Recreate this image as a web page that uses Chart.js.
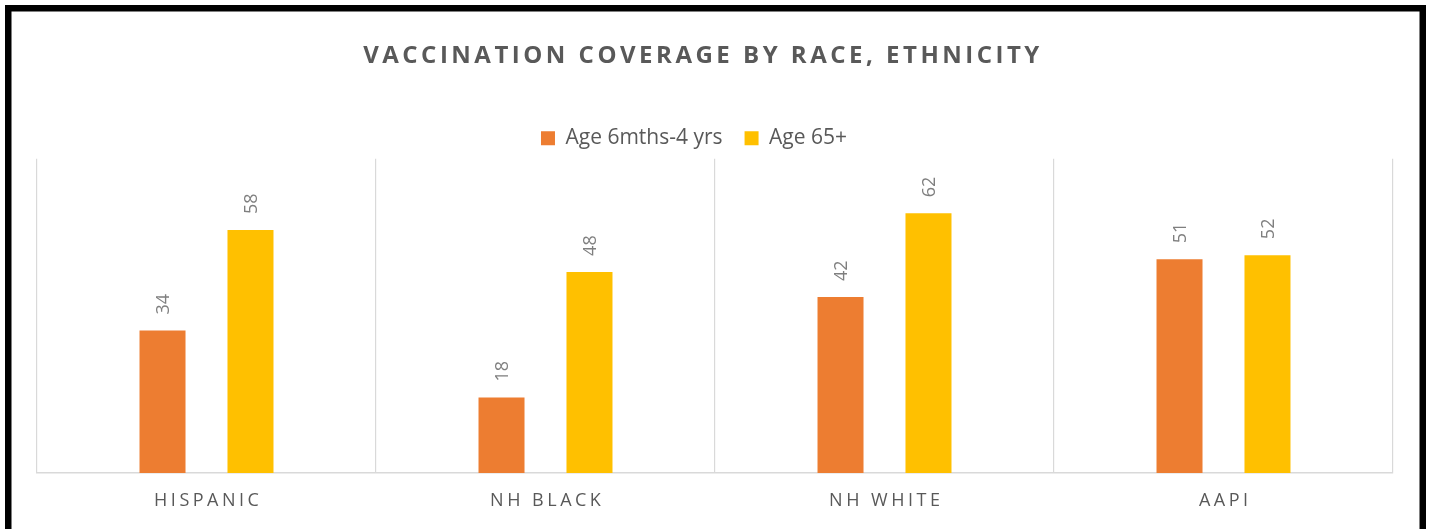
<!DOCTYPE html>
<html>
<head>
<meta charset="utf-8">
<script src="https://cdn.jsdelivr.net/npm/chart.js@4.4.1/dist/chart.umd.min.js"></script>
<style>
  html, body { margin: 0; padding: 0; background: #ffffff; }
  #wrap { position: relative; width: 1429px; height: 529px; }
</style>
</head>
<body>
<div id="wrap"><canvas id="c"></canvas></div>
<script>
const categories = ["HISPANIC", "NH BLACK", "NH WHITE", "AAPI"];
const seriesNames = ["Age 6mths-4 yrs", "Age 65+"];
const youngValues = [34, 18, 42, 51];
const seniorValues = [58, 48, 62, 52];
const chartTitle = "VACCINATION COVERAGE BY RACE, ETHNICITY";

const FONT = "'Open Sans', 'Liberation Sans', sans-serif";

const spacingPlugin = {
  id: 'spacing',
  beforeDraw(chart) {
    const tb = chart.titleBlock;
    if (tb && !tb._wrapped) {
      const orig = tb.draw.bind(tb);
      tb.draw = function () {
        const ctx = chart.ctx;
        ctx.save();
        ctx.letterSpacing = '3.5px';
        ctx.translate(-12, 0);
        orig();
        ctx.restore();
      };
      tb._wrapped = true;
    }
    const lg = chart.legend;
    if (lg && !lg._wrapped) {
      const origL = lg.draw.bind(lg);
      lg.draw = function () {
        const ctx = chart.ctx;
        ctx.save();
        ctx.translate(-21, 0);
        origL();
        ctx.restore();
      };
      lg._wrapped = true;
    }
    const xs = chart.scales.x;
    if (xs && !xs._wrapped) {
      const origX = xs.drawLabels.bind(xs);
      xs.drawLabels = function (area) {
        const ctx = chart.ctx;
        ctx.save();
        ctx.letterSpacing = '3.5px';
        ctx.translate(1.75, 0);
        origX(area);
        ctx.restore();
      };
      xs._wrapped = true;
    }
  }
};

const valueLabelPlugin = {
  id: 'valueLabels',
  afterDatasetsDraw(chart) {
    const ctx = chart.ctx;
    chart.data.datasets.forEach((ds, di) => {
      const meta = chart.getDatasetMeta(di);
      meta.data.forEach((bar, i) => {
        ctx.save();
        ctx.translate(bar.x, bar.y - 16);
        ctx.rotate(-Math.PI / 2);
        ctx.font = "18px " + FONT;
        ctx.fillStyle = '#7f7f7f';
        ctx.textAlign = 'left';
        ctx.textBaseline = 'middle';
        ctx.fillText(String(ds.data[i]), 0, 1);
        ctx.restore();
      });
    });
  }
};

const framePlugin = {
  id: 'frame',
  afterDraw(chart) {
    const ctx = chart.ctx;
    ctx.save();
    ctx.strokeStyle = '#000000';
    ctx.lineWidth = 6.5;
    ctx.strokeRect(8.25, 8.25, 1414.5, 600);
    ctx.restore();
  }
};

new Chart(document.getElementById('c'), {
  type: 'bar',
  data: {
    labels: categories,
    datasets: [
      { label: seriesNames[0], data: youngValues, backgroundColor: '#ED7D31', borderWidth: 0 },
      { label: seriesNames[1], data: seniorValues, backgroundColor: '#FFC000', borderWidth: 0 }
    ]
  },
  options: {
    responsive: true,
    maintainAspectRatio: false,
    devicePixelRatio: 1,
    animation: false,
    categoryPercentage: 0.519,
    barPercentage: 0.523,
    layout: { padding: { left: 37, right: 36, top: 0, bottom: 0 } },
    plugins: {
      title: {
        display: true,
        text: chartTitle,
        color: '#595959',
        font: { family: FONT, size: 24, weight: 'bold' },
        padding: { top: 42, bottom: 35 }
      },
      legend: {
        display: true,
        position: 'top',
        labels: {
          color: '#595959',
          font: { family: FONT, size: 21 },
          boxWidth: 14,
          boxHeight: 14,
          padding: 22
        }
      },
      tooltip: { enabled: false }
    },
    scales: {
      x: {
        offset: true,
        grid: { display: true, color: '#d9d9d9', lineWidth: 1.2, drawTicks: false, offset: true },
        border: { display: true, color: '#d9d9d9', width: 1.5 },
        ticks: { color: '#595959', font: { family: FONT, size: 18, lineHeight: 1.0 }, padding: 19 }
      },
      y: {
        display: false,
        min: 0,
        max: 75
      }
    }
  },
  plugins: [spacingPlugin, valueLabelPlugin, framePlugin]
});
</script>
</body>
</html>
